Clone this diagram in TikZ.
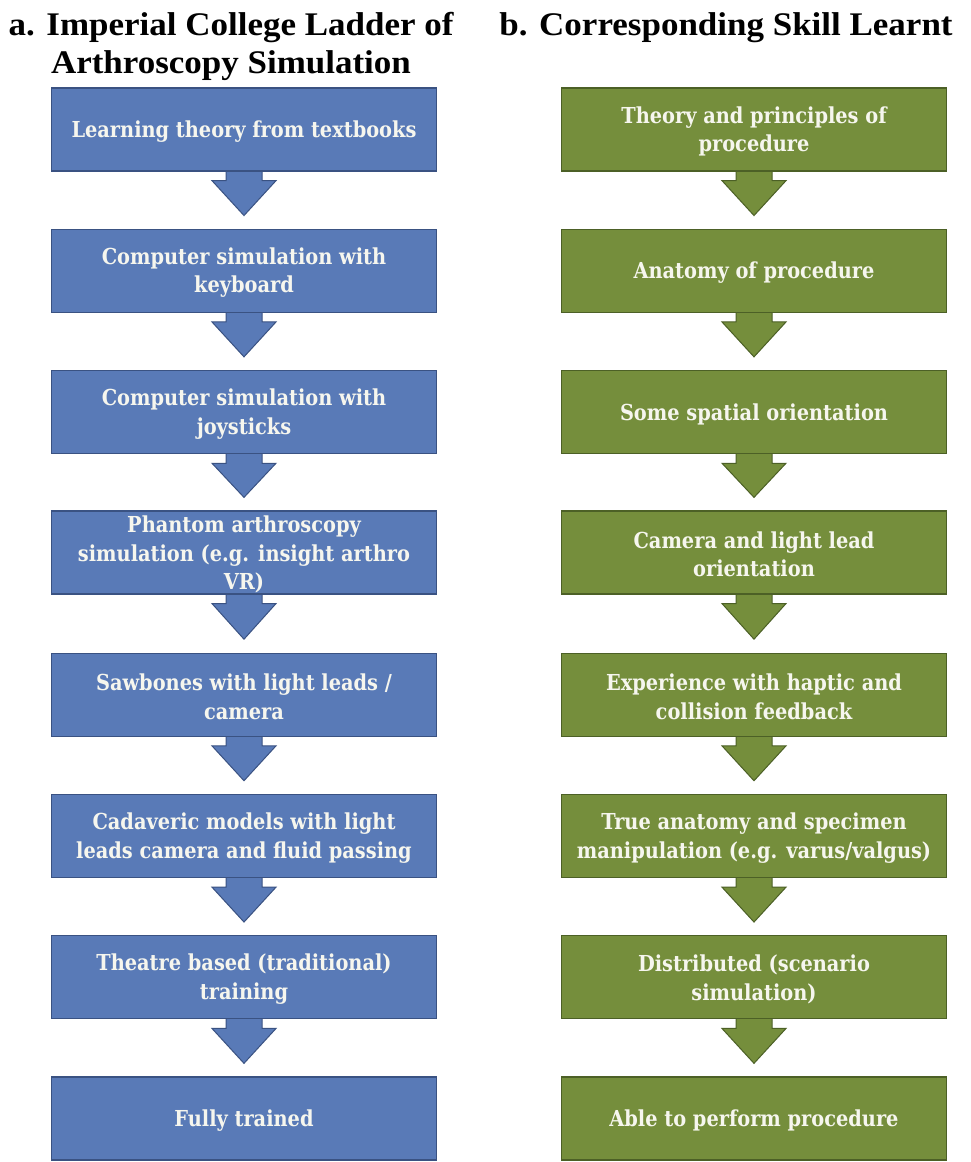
\documentclass[tikz,border=0pt]{standalone}
\usepackage{fontspec}
\usetikzlibrary{calc}
\newfontfamily\titlefont[FakeStretch=1.06]{Liberation Serif}
\newfontfamily\boxfont[FakeStretch=0.88]{DejaVu Serif}
\definecolor{bluefill}{RGB}{89,122,183}
\definecolor{blueline}{RGB}{58,82,130}
\definecolor{greenfill}{RGB}{117,142,60}
\definecolor{greenline}{RGB}{76,96,38}
\definecolor{boxtext}{RGB}{246,246,238}
\pgfdeclarelayer{bottom}
\pgfdeclarelayer{background}
\pgfsetlayers{bottom,background,main}
\tikzset{
  ladderbox/.style={rectangle, minimum width=385pt, minimum height=83pt, inner sep=0pt, line width=1.3pt},
  bluebox/.style={ladderbox, fill=bluefill, draw=blueline},
  greenbox/.style={ladderbox, fill=greenfill, draw=greenline},
  boxlabel/.style={text=boxtext, align=center, inner sep=0pt, font=\boxfont\bfseries\fontsize{22}{28.5}\selectfont},
  titlelabel/.style={anchor=north, align=center, inner sep=0pt, font=\titlefont\bfseries\fontsize{33}{38}\selectfont},
  bluearrow/.style={fill=bluefill, draw=blueline, line width=1pt, line join=miter},
  greenarrow/.style={fill=greenfill, draw=greenline, line width=1pt, line join=miter}
}
\begin{document}
\begin{tikzpicture}[x=1pt,y=-1pt]
\useasboundingbox (0,0) rectangle (970,1162);
\begin{pgfonlayer}{bottom}
\fill[white] (0,0) rectangle (970,1162);
\end{pgfonlayer}

\node[titlelabel] (ta) at (231,12.5) {a. Imperial College Ladder of\\Arthroscopy Simulation};
\node[titlelabel] (tb) at (726,12.5) {b. Corresponding Skill Learnt};

% left column
\node[bluebox] (a1) at (244,129.5) {};
\node[bluebox] (a2) at (244,270.8) {};
\node[bluebox] (a3) at (244,412.1) {};
\node[bluebox] (a4) at (244,552.4) {};
\node[bluebox] (a5) at (244,694.7) {};
\node[bluebox] (a6) at (244,836.0) {};
\node[bluebox] (a7) at (244,977.3) {};
\node[bluebox] (a8) at (244,1118.6) {};
% right column
\node[greenbox] (b1) at (754,129.5) {};
\node[greenbox] (b2) at (754,270.8) {};
\node[greenbox] (b3) at (754,412.1) {};
\node[greenbox] (b4) at (754,552.4) {};
\node[greenbox] (b5) at (754,694.7) {};
\node[greenbox] (b6) at (754,836.0) {};
\node[greenbox] (b7) at (754,977.3) {};
\node[greenbox] (b8) at (754,1118.6) {};

% labels
\node[boxlabel] (la1) at ($(a1.center)+(0,2)$) {Learning theory from textbooks};
\node[boxlabel] (la2) at ($(a2.center)+(0,2)$) {Computer simulation with\\keyboard};
\node[boxlabel] (la3) at ($(a3.center)+(0,2)$) {Computer simulation with\\joysticks};
\node[boxlabel] (la4) at ($(a4.center)+(0,2)$) {Phantom arthroscopy\\simulation (e.g. insight arthro\\VR)};
\node[boxlabel] (la5) at ($(a5.center)+(0,2)$) {Sawbones with light leads /\\camera};
\node[boxlabel] (la6) at ($(a6.center)+(0,2)$) {Cadaveric models with light\\leads camera and fluid passing};
\node[boxlabel] (la7) at ($(a7.center)+(0,2)$) {Theatre based (traditional)\\training};
\node[boxlabel] (la8) at ($(a8.center)+(0,2)$) {Fully trained};
\node[boxlabel] (lb1) at ($(b1.center)+(0,2)$) {Theory and principles of\\procedure};
\node[boxlabel] (lb2) at ($(b2.center)+(0,2)$) {Anatomy of procedure};
\node[boxlabel] (lb3) at ($(b3.center)+(0,2)$) {Some spatial orientation};
\node[boxlabel] (lb4) at ($(b4.center)+(0,2)$) {Camera and light lead\\orientation};
\node[boxlabel] (lb5) at ($(b5.center)+(0,2)$) {Experience with haptic and\\collision feedback};
\node[boxlabel] (lb6) at ($(b6.center)+(0,2)$) {True anatomy and specimen\\manipulation (e.g. varus/valgus)};
\node[boxlabel] (lb7) at ($(b7.center)+(0,2)$) {Distributed (scenario\\simulation)};
\node[boxlabel] (lb8) at ($(b8.center)+(0,2)$) {Able to perform procedure};

% block arrows
\begin{pgfonlayer}{background}
\foreach \s/\t/\st in {a1/a2/bluearrow,a2/a3/bluearrow,a3/a4/bluearrow,a4/a5/bluearrow,a5/a6/bluearrow,a6/a7/bluearrow,a7/a8/bluearrow,
                       b1/b2/greenarrow,b2/b3/greenarrow,b3/b4/greenarrow,b4/b5/greenarrow,b5/b6/greenarrow,b6/b7/greenarrow,b7/b8/greenarrow}{
  \path[\st] ($(\s.south)+(-18,-6)$) -- ($(\s.south)+(-18,9)$) -- ($(\s.south)+(-32,9)$)
    -- ($(\s.south)!0.77!(\t.north)$)
    -- ($(\s.south)+(32,9)$) -- ($(\s.south)+(18,9)$) -- ($(\s.south)+(18,-6)$) -- cycle;
}
\end{pgfonlayer}
\end{tikzpicture}
\end{document}
